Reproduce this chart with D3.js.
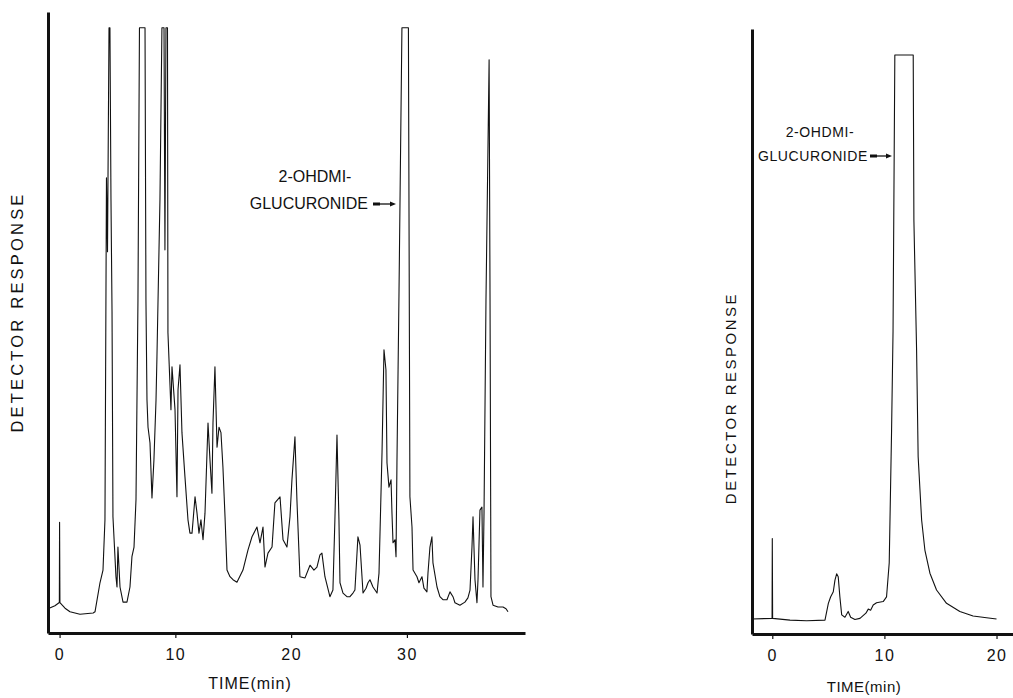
<!DOCTYPE html>
<html>
<head>
<meta charset="utf-8">
<script src="https://cdn.jsdelivr.net/npm/d3@7"></script>
<style>
  html, body { margin: 0; padding: 0; background: #fff; }
  svg { display: block; }
  text { font-family: "Liberation Sans", Arial, Helvetica, sans-serif; fill: #111; }
</style>
</head>
<body>
<svg id="chart" width="1013" height="698"></svg>
<script>
// ---------- DATA ----------
// Left chromatogram: time (min) and detector response (arbitrary units, 100 = recorder full scale)
const leftTime = [-1.0,-0.4,-0.05,-0.02,0.0,0.03,0.47,0.9,1.76,2.9,3.06,3.49,3.75,3.92,4.05,4.14,4.27,4.35,4.44,4.53,4.61,4.87,4.96,5.04,5.22,5.48,5.82,6.08,6.25,6.43,6.6,6.77,6.9,7.38,7.46,7.55,7.64,7.81,7.98,8.15,8.33,8.41,8.67,8.84,9.02,9.1,9.19,9.32,9.36,9.62,9.71,9.97,10.14,10.23,10.4,10.57,10.83,11.09,11.26,11.44,11.7,11.87,12.04,12.21,12.39,12.56,12.82,12.99,13.16,13.25,13.42,13.6,13.77,13.94,14.11,14.29,14.46,14.72,14.98,15.32,15.84,16.27,16.62,17.05,17.31,17.57,17.74,18.0,18.35,18.6,19.04,19.3,19.64,19.9,20.07,20.33,20.5,20.76,21.2,21.63,21.97,22.23,22.49,22.66,22.92,23.35,23.61,23.78,23.96,24.13,24.22,24.48,24.82,25.08,25.34,25.51,25.77,25.95,26.21,26.47,26.64,26.81,27.07,27.42,27.59,27.85,28.02,28.19,28.28,28.45,28.63,28.71,28.8,28.97,29.06,29.14,29.32,29.57,30.13,30.26,30.44,30.53,30.87,31.04,31.3,31.47,31.73,31.82,31.99,32.16,32.25,32.6,32.85,33.11,33.46,33.72,33.98,34.15,34.58,35.01,35.27,35.45,35.62,35.71,35.88,36.05,36.14,36.31,36.48,36.57,36.66,36.83,37.1,37.18,37.26,37.44,37.87,38.3,38.56,38.73];
const leftResponse = [4.0,4.5,5.0,5.0,18.3,5.0,4.1,3.5,3.1,3.3,3.5,8.3,10.4,18.7,75.2,63,100,100,71.6,53.1,19.2,9.3,7.6,14.2,7.6,5.1,5.1,7.6,12.6,14.2,22.0,55,100,100,55,38.5,34,31.4,22.3,28.6,38.5,45.6,71.6,100,100,63.3,100,100,49.6,36.9,44,36.9,22.5,40.2,44.3,33.1,25.8,18.7,16.5,16.5,22.5,19.8,16.5,18.7,15.4,19.8,34.7,28.6,23.1,34.7,44,30.7,34,33.1,27.4,19.2,10.4,9.3,8.8,8.4,10.4,13.7,15.9,17.5,14.9,17.5,10.9,13.2,14.2,21.5,22.5,15.4,14.2,19.2,25.3,32.4,22,9.3,9.1,11.2,10.4,10.9,12.9,13.2,9.3,6.0,7.1,18.7,32.7,18.7,8.3,6.6,6.0,6.0,6.6,7.1,15.9,14.5,6.6,7.4,8.3,8.8,7.6,6.6,9.9,29.8,46.8,43.5,28.1,24.1,25.3,19.8,14.9,15.4,12.6,28.1,56.7,100,100,22.5,17.5,10.4,9.3,8.3,9.3,7.4,6.8,9.9,14.2,15.9,11.6,7.6,6.0,5.5,5.5,6.8,6.0,5.0,4.6,5.1,5.8,7.1,14.2,19.2,8.8,5.0,8.8,20.3,20.8,7.6,19.8,55,94.7,55,6.0,4.6,4.3,4.3,4.0,3.5];

// Right chromatogram
const rightTime = [-1.84,-0.05,-0.02,0.0,0.03,1.58,3.06,4.7,5.0,5.2,5.44,5.59,5.74,5.88,6.03,6.19,6.48,6.77,6.99,7.37,7.82,8.35,8.56,8.77,9.0,9.3,9.89,10.19,10.43,10.64,10.77,10.93,12.57,12.63,12.87,13.01,13.32,13.61,14.06,14.65,15.54,16.73,17.91,19.11,20.0];
const rightResponse = [2.6,2.7,2.7,16.5,2.7,2.4,2.3,2.4,5.3,6.4,7.3,9.3,10.4,9.9,6.4,3.3,2.9,3.9,2.9,2.5,2.7,3.6,4.3,4.1,5.0,5.4,5.6,6.4,12.3,35.2,52.3,100,100,71.5,49.1,30.6,19.7,14.5,10.5,7.6,5.3,3.9,3.1,2.8,2.6];

const leftTicks = [0, 10, 20, 30];
const rightTicks = [0, 10, 20];
const xTitle = "TIME(min)";
const yTitle = "DETECTOR RESPONSE";
const annotLine1 = "2-OHDMI-";
const annotLine2 = "GLUCURONIDE";

// ---------- DRAW ----------
const svg = d3.select("#chart");
const ink = "#111";

function panel(cfg) {
  const g = svg.append("g");
  const x = d3.scaleLinear().domain(cfg.xDomain).range(cfg.xRange);
  const y = d3.scaleLinear().domain(cfg.yDomain).range(cfg.yRange);

  // trace
  const pts = cfg.time.map((t, i) => [t, cfg.resp[i]]);
  g.append("path")
    .datum(pts)
    .attr("fill", "none")
    .attr("stroke", ink)
    .attr("stroke-width", 1.1)
    .attr("stroke-linejoin", "round")
    .attr("d", d3.line().x(d => x(d[0])).y(d => y(d[1])));

  // x axis
  const xa = g.append("g")
    .attr("transform", `translate(0,${cfg.yRange[0]})`)
    .call(d3.axisBottom(x).tickValues(cfg.ticks).tickSize(5).tickSizeOuter(0).tickPadding(11));
  xa.select(".domain").attr("stroke", ink).attr("stroke-width", 3);
  xa.selectAll(".tick line").attr("stroke", ink).attr("stroke-width", 1.2);
  xa.selectAll(".tick text").attr("font-size", cfg.tickFont).attr("fill", ink)
    .attr("letter-spacing", 1.5)
    .attr("font-family", "'Liberation Sans', Arial, sans-serif");

  // y axis
  const ya = g.append("g")
    .attr("transform", `translate(${cfg.xRange[0]},0)`)
    .call(d3.axisLeft(y).tickValues([]).tickSizeOuter(0));
  ya.select(".domain").attr("stroke", ink).attr("stroke-width", 3);

  // titles
  g.append("text")
    .attr("x", cfg.xTitlePos[0]).attr("y", cfg.xTitlePos[1])
    .attr("text-anchor", "middle").attr("font-size", cfg.titleFont)
    .attr("letter-spacing", cfg.xLetter)
    .text(xTitle);
  g.append("text")
    .attr("transform", `translate(${cfg.yTitlePos[0]},${cfg.yTitlePos[1]}) rotate(-90)`)
    .attr("text-anchor", "middle").attr("font-size", cfg.yTitleFont)
    .attr("letter-spacing", cfg.yLetter)
    .text(yTitle);

  // annotation
  const a = cfg.annot;
  g.append("text").attr("x", a.l1[0]).attr("y", a.l1[1])
    .attr("text-anchor", "middle").attr("font-size", a.font)
    .attr("letter-spacing", a.ls).text(annotLine1);
  g.append("text").attr("x", a.l2[0]).attr("y", a.l2[1])
    .attr("text-anchor", "end").attr("font-size", a.font)
    .attr("letter-spacing", a.ls).text(annotLine2);
  const ay = a.arrow[2];
  g.append("line").attr("x1", a.arrow[0]).attr("x2", a.arrow[1] - 4)
    .attr("y1", ay).attr("y2", ay).attr("stroke", ink).attr("stroke-width", 1.3);
  g.append("line").attr("x1", a.arrow[0]).attr("x2", a.arrow[0] + 7)
    .attr("y1", ay).attr("y2", ay).attr("stroke", ink).attr("stroke-width", 3);
  g.append("path")
    .attr("d", `M${a.arrow[1]},${ay} L${a.arrow[1] - 6},${ay - 2.5} L${a.arrow[1] - 6},${ay + 2.5} Z`)
    .attr("fill", ink);
}

panel({
  time: leftTime, resp: leftResponse,
  xDomain: [-1.0, 40.2], xRange: [48, 525],
  yDomain: [0, 102.6], yRange: [633, 12],
  ticks: leftTicks, tickFont: 16, titleFont: 16, xLetter: 1, yTitleFont: 16.5, yLetter: 3.2,
  xTitlePos: [250, 689], yTitlePos: [23, 312],
  annot: { font: 16, ls: 0, l1: [315, 182], l2: [368, 209], arrow: [373, 396, 204] }
});

panel({
  time: rightTime, resp: rightResponse,
  xDomain: [-1.81, 21.47], xRange: [752, 1013],
  yDomain: [0, 104.5], yRange: [634, 29],
  ticks: rightTicks, tickFont: 16, titleFont: 15, xLetter: 0.5, yTitleFont: 15, yLetter: 2.5,
  xTitlePos: [864, 692], yTitlePos: [736, 398],
  annot: { font: 14, ls: 0.6, l1: [820, 137], l2: [868, 161], arrow: [870, 892, 156] }
});
</script>
</body>
</html>
